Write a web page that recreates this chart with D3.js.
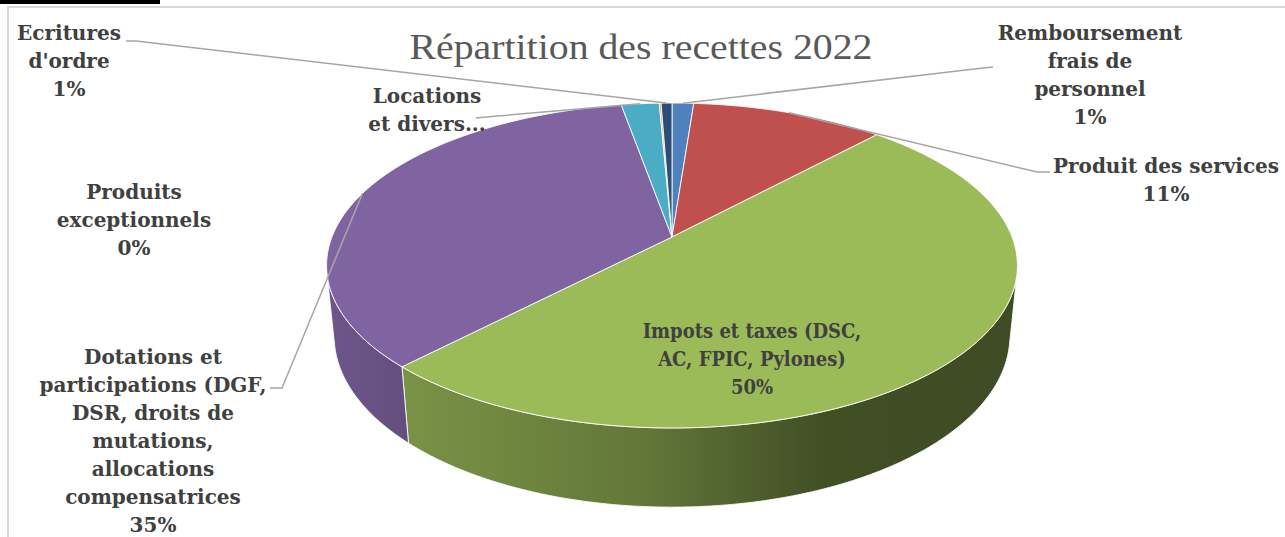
<!DOCTYPE html>
<html>
<head>
<meta charset="utf-8">
<script src="https://cdn.jsdelivr.net/npm/d3@7"></script>
<style>
  html, body { margin: 0; padding: 0; background: #fff; }
  svg { display: block; }
</style>
</head>
<body>
<svg id="chart" width="1285" height="537"></svg>
<script>
// Recettes 2022, share of each revenue line (percent of total)
const categories = [
  "Remboursement frais de personnel",
  "Produit des services",
  "Impots et taxes (DSC, AC, FPIC, Pylones)",
  "Dotations et participations (DGF, DSR, droits de mutations, allocations compensatrices",
  "Locations et divers...",
  "Produits exceptionnels",
  "Ecritures d'ordre"
];
const shares = [1.2, 10.7, 50.3, 35.0, 2.1, 0.1, 0.6];
const sliceColors = ["#4F81BD", "#C0504D", "#9BBB59", "#8064A2", "#4BACC6", "#F79646", "#2C4D75"];
// wrapped label lines (percentage appended when shown)
const labelLines = [
  ["Remboursement", "frais de", "personnel"],
  ["Produit des services"],
  ["Impots et taxes (DSC,", "AC, FPIC, Pylones)"],
  ["Dotations et", "participations (DGF,", "DSR, droits de", "mutations,", "allocations", "compensatrices"],
  ["Locations", "et divers..."],
  ["Produits", "exceptionnels"],
  ["Ecritures", "d'ordre"]
];
const showPercent = [true, true, true, true, false, true, true];
const title = "Répartition des recettes 2022";

// label placement: centre x, first baseline, horizontal squeeze, leader polyline start (null = no leader)
const labelLayout = [
  { x: 1090, y: 40,  sx: 1,   leader: [[993, 67], [983, 68]] },
  { x: 1166, y: 173, sx: 1,   leader: [[1050, 172], [1037, 172]] },
  { x: 752,  y: 338, sx: 0.9, leader: null },
  { x: 153,  y: 364, sx: 1,   leader: [[270, 388], [282, 388]] },
  { x: 427,  y: 103, sx: 1,   leader: [[476, 118], [486, 117]] },
  { x: 134,  y: 199, sx: 1,   leader: null },
  { x: 69,   y: 40,  sx: 1,   leader: [[126, 41], [136, 41]] }
];

const svg = d3.select("#chart");
const W = 1285, H = 537;

// chart area frame and the rule above it
svg.append("rect").attr("x", 0).attr("y", 0).attr("width", 160).attr("height", 4).attr("fill", "#000");
svg.append("rect").attr("x", 8).attr("y", 7).attr("width", W + 20).attr("height", H + 20)
  .attr("fill", "none").attr("stroke", "#d9d9d9").attr("stroke-width", 2);

// perspective camera for the tilted pie
const cam = { cx: 672, cy: 237, f: 1718, D: 5.052, s: 0.463, h: 0.236 };
cam.c = Math.sqrt(1 - cam.s * cam.s);
function project(theta, r, y) {
  const X = r * Math.sin(theta), Z = -r * Math.cos(theta);
  const yv = y * cam.c - Z * cam.s;
  const depth = cam.D - (y * cam.s + Z * cam.c);
  return [cam.cx + cam.f * X / depth, cam.cy - cam.f * yv / depth];
}

const total = d3.sum(shares);
const pie = d3.pie().sort(null).value(d => d).startAngle(0).endAngle(2 * Math.PI);
const arcs = pie(shares);
const line = d3.line();

function arcPoints(a0, a1, y) {
  const n = Math.max(2, Math.ceil((a1 - a0) / (Math.PI / 180)) + 1);
  return d3.range(n).map(i => project(a0 + (a1 - a0) * i / (n - 1), 1, y));
}

// side wall shading gradients
const defs = svg.append("defs");
const xLeft = cam.cx - 346, xRight = cam.cx + 346;
const shadeStops = [[0, 0.86], [0.12, 0.78], [0.45, 0.64], [0.72, 0.42], [1, 0.40]];
sliceColors.forEach((col, i) => {
  const g = defs.append("linearGradient").attr("id", "wall" + i)
    .attr("gradientUnits", "userSpaceOnUse")
    .attr("x1", xLeft).attr("x2", xRight).attr("y1", 0).attr("y2", 0);
  const base = d3.rgb(col);
  shadeStops.forEach(([o, k]) => {
    g.append("stop").attr("offset", o)
      .attr("stop-color", d3.rgb(base.r * k, base.g * k, base.b * k).formatHex());
  });
});

// visible (camera-facing) part of the outer wall
const wallMin = Math.acos(-1 / (cam.c * cam.D));
const wallMax = 2 * Math.PI - wallMin;

const walls = svg.append("g");
arcs.forEach((a, i) => {
  const a0 = Math.max(a.startAngle, wallMin), a1 = Math.min(a.endAngle, wallMax);
  if (a1 <= a0) return;
  const pts = arcPoints(a0, a1, 0).concat(arcPoints(a0, a1, -cam.h).reverse());
  walls.append("path").attr("d", line(pts) + "Z")
    .attr("fill", `url(#wall${i})`)
    .attr("stroke", "#fff").attr("stroke-width", 1).attr("stroke-opacity", 0.85)
    .attr("stroke-linejoin", "round");
});

// top faces
const tops = svg.append("g");
const apex = project(0, 0, 0);
arcs.forEach((a, i) => {
  if (a.endAngle - a.startAngle <= 0) return;
  const pts = [apex].concat(arcPoints(a.startAngle, a.endAngle, 0));
  tops.append("path").attr("d", line(pts) + "Z")
    .attr("fill", sliceColors[i])
    .attr("stroke", "#fff").attr("stroke-width", 1).attr("stroke-opacity", 0.85)
    .attr("stroke-linejoin", "round");
});

// title
svg.append("text").attr("x", 641).attr("y", 59)
  .attr("text-anchor", "middle")
  .attr("font-family", "'Liberation Serif', serif").attr("font-size", 36)
  .attr("textLength", 463).attr("lengthAdjust", "spacingAndGlyphs")
  .attr("fill", "#595959").text(title);

// leader lines
const leaders = svg.append("g").attr("fill", "none").attr("stroke", "#a6a6a6").attr("stroke-width", 1.5);
arcs.forEach((a, i) => {
  const L = labelLayout[i];
  if (!L.leader) return;
  const mid = (a.startAngle + a.endAngle) / 2;
  leaders.append("path").attr("d", line(L.leader.concat([project(mid, 1, 0)])));
});

// data labels
const lh = 28;
arcs.forEach((a, i) => {
  const L = labelLayout[i];
  const lines = labelLines[i].slice();
  if (showPercent[i]) lines.push(Math.round(shares[i] / total * 100) + "%");
  const t = svg.append("g")
    .attr("transform", `translate(${L.x},${L.y}) scale(${L.sx},1)`)
    .append("text")
    .attr("text-anchor", "middle")
    .attr("font-family", "'DejaVu Serif', serif").attr("font-weight", "bold")
    .attr("font-size", 20).attr("fill", "#404040");
  lines.forEach((s, k) => {
    t.append("tspan").attr("x", 0).attr("y", k * lh).text(s);
  });
});
</script>
</body>
</html>
